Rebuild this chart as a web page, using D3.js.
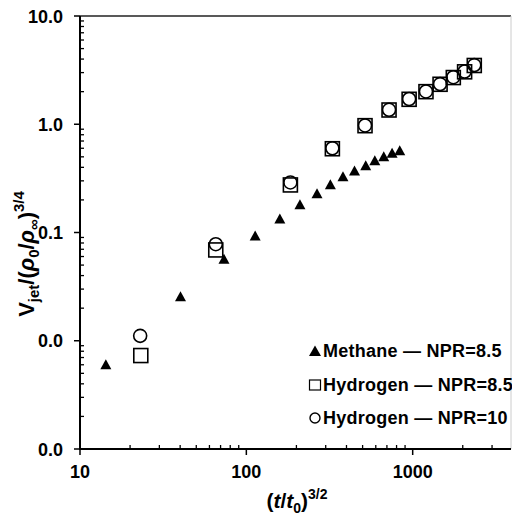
<!DOCTYPE html>
<html>
<head>
<meta charset="utf-8">
<script src="https://cdn.jsdelivr.net/npm/d3@7"></script>
<style>
  body { margin: 0; background: #fff; }
  text { font-family: "Liberation Sans", Arial, sans-serif; font-weight: bold; fill: #000; }
</style>
</head>
<body>
<svg width="512" height="521"></svg>
<script>
// values: x = (t/t0)^(3/2), y = Vjet/(rho0/rhoInf)^(3/4)
var methaneX = [14.3, 40.2, 73.4, 113, 159, 210, 266, 320, 381, 447, 522, 592, 670, 752, 836];
var methaneY = [0.0060, 0.0255, 0.0566, 0.093, 0.133, 0.180, 0.228, 0.276, 0.328, 0.370, 0.414, 0.460, 0.502, 0.539, 0.570];

var h2x85 = [23.2, 65.5, 184, 329, 517, 721, 952, 1202, 1461, 1755, 2052, 2346];
var h2y85 = [0.0073, 0.069, 0.275, 0.594, 0.970, 1.354, 1.70, 2.00, 2.34, 2.70, 3.05, 3.49];

var h2x10 = [23.0, 65.5, 184, 329, 517, 721, 952, 1202, 1461, 1755, 2052, 2346];
var h2y10 = [0.0111, 0.078, 0.290, 0.600, 0.975, 1.36, 1.71, 2.01, 2.35, 2.72, 3.07, 3.52];

var xTicks = [10, 100, 1000];
var yTicks = [0.001, 0.01, 0.1, 1, 10];
var legendLabels = ["Methane \u2014 NPR=8.5", "Hydrogen \u2014 NPR=8.5", "Hydrogen \u2014 NPR=10"];

var svg = d3.select("svg");
var pLeft = 80, pRight = 511, pTop = 16, pBottom = 449;

var x = d3.scaleLog().domain([10, 3900]).range([pLeft, pRight]);
var y = d3.scaleLog().domain([0.001, 10]).range([pBottom, pTop]);

// minor ticks (inside) for each decade
var xMinor = [], yMinor = [];
[10, 100, 1000].forEach(function(d) {
  for (var k = 2; k <= 9; k++) if (d * k <= 3900) xMinor.push(d * k);
});
[0.001, 0.01, 0.1, 1].forEach(function(d) {
  for (var k = 2; k <= 9; k++) yMinor.push(d * k);
});

// frame: top dark, right light
svg.append("line").attr("x1", pLeft).attr("x2", pRight).attr("y1", pTop).attr("y2", pTop)
  .attr("stroke", "#222").attr("stroke-width", 1.5);
svg.append("line").attr("x1", pRight).attr("x2", pRight).attr("y1", pTop).attr("y2", pBottom)
  .attr("stroke", "#ccc").attr("stroke-width", 1);

// x axis
var gx = svg.append("g").attr("transform", "translate(0," + pBottom + ")");
gx.selectAll(".minor").data(xMinor).enter().append("line")
  .attr("x1", x).attr("x2", x).attr("y1", 0).attr("y2", -4)
  .attr("stroke", "#000").attr("stroke-width", 1.3);
gx.selectAll(".major").data(xTicks).enter().append("line")
  .attr("x1", x).attr("x2", x).attr("y1", 0).attr("y2", 6)
  .attr("stroke", "#000").attr("stroke-width", 1.5);
gx.append("line").attr("x1", pLeft).attr("x2", pRight).attr("stroke", "#000").attr("stroke-width", 2);
gx.selectAll("text").data(xTicks).enter().append("text")
  .attr("x", x).attr("y", 29)
  .attr("text-anchor", "middle")
  .attr("font-size", 18)
  .text(function(d) { return d; });

// y axis
var gy = svg.append("g").attr("transform", "translate(" + pLeft + ",0)");
gy.selectAll(".minor").data(yMinor).enter().append("line")
  .attr("y1", y).attr("y2", y).attr("x1", 0).attr("x2", 4)
  .attr("stroke", "#000").attr("stroke-width", 1.3);
gy.selectAll(".major").data(yTicks).enter().append("line")
  .attr("y1", y).attr("y2", y).attr("x1", 0).attr("x2", -6)
  .attr("stroke", "#000").attr("stroke-width", 1.5);
gy.append("line").attr("y1", pTop).attr("y2", pBottom + 1).attr("stroke", "#000").attr("stroke-width", 2);
gy.selectAll("text").data(yTicks).enter().append("text")
  .attr("x", -17).attr("y", function(d) { return y(d) + 6.5; })
  .attr("text-anchor", "end")
  .attr("font-size", 18)
  .text(d3.format(".1f"));

// axis titles
var xt = svg.append("text").attr("x", 297).attr("y", 508).attr("text-anchor", "middle").attr("font-size", 21);
xt.append("tspan").text("(");
xt.append("tspan").attr("font-style", "italic").text("t");
xt.append("tspan").text("/");
xt.append("tspan").attr("font-style", "italic").text("t");
xt.append("tspan").attr("font-size", 14).attr("dy", 5).text("0");
xt.append("tspan").attr("dy", -5).text(")");
xt.append("tspan").attr("font-size", 14).attr("dy", -9).text("3/2");

var yt = svg.append("text").attr("transform", "translate(34,254) rotate(-90)")
  .attr("text-anchor", "middle").attr("font-size", 22);
yt.append("tspan").text("V");
yt.append("tspan").attr("font-size", 15).attr("dy", 5).text("jet");
yt.append("tspan").attr("dy", -5).text("/(");
yt.append("tspan").attr("font-style", "italic").text("\u03c1");
yt.append("tspan").attr("font-size", 15).attr("dy", 5).text("0");
yt.append("tspan").attr("dy", -5).text("/");
yt.append("tspan").attr("font-style", "italic").text("\u03c1");
yt.append("tspan").attr("font-size", 15).attr("dy", 5).text("\u221e");
yt.append("tspan").attr("dy", -5).text(")");
yt.append("tspan").attr("font-size", 15).attr("dy", -10).text("3/4");

// markers
var tri = "M-5.5,4.5L5.5,4.5L0,-5.5Z";

svg.append("g").selectAll("rect").data(h2x85).enter().append("rect")
  .attr("x", function(d) { return x(d) - 7; })
  .attr("y", function(d, i) { return y(h2y85[i]) - 7; })
  .attr("width", 14).attr("height", 14)
  .attr("fill", "none").attr("stroke", "#000").attr("stroke-width", 1.6);

svg.append("g").selectAll("circle").data(h2x10).enter().append("circle")
  .attr("cx", x)
  .attr("cy", function(d, i) { return y(h2y10[i]); })
  .attr("r", 6.5)
  .attr("fill", "none").attr("stroke", "#000").attr("stroke-width", 1.6);

svg.append("g").selectAll("path").data(methaneX).enter().append("path")
  .attr("d", tri)
  .attr("transform", function(d, i) { return "translate(" + x(d) + "," + y(methaneY[i]) + ")"; })
  .attr("fill", "#000");

// legend
var lg = svg.append("g");
var rows = [357, 391, 424];
lg.append("path").attr("d", "M-6,5L6,5L0,-5.5Z").attr("transform", "translate(315," + (rows[0] - 6) + ")");
lg.append("rect").attr("x", 309.5).attr("y", rows[1] - 11).attr("width", 11).attr("height", 10)
  .attr("fill", "none").attr("stroke", "#000").attr("stroke-width", 1.2);
lg.append("circle").attr("cx", 315).attr("cy", rows[2] - 6).attr("r", 5)
  .attr("fill", "none").attr("stroke", "#000").attr("stroke-width", 1.4);
lg.selectAll("text").data(legendLabels).enter().append("text")
  .attr("x", 323).attr("y", function(d, i) { return rows[i]; })
  .attr("font-size", 18)
  .attr("letter-spacing", 0.25)
  .text(function(d) { return d; });
</script>
</body>
</html>
